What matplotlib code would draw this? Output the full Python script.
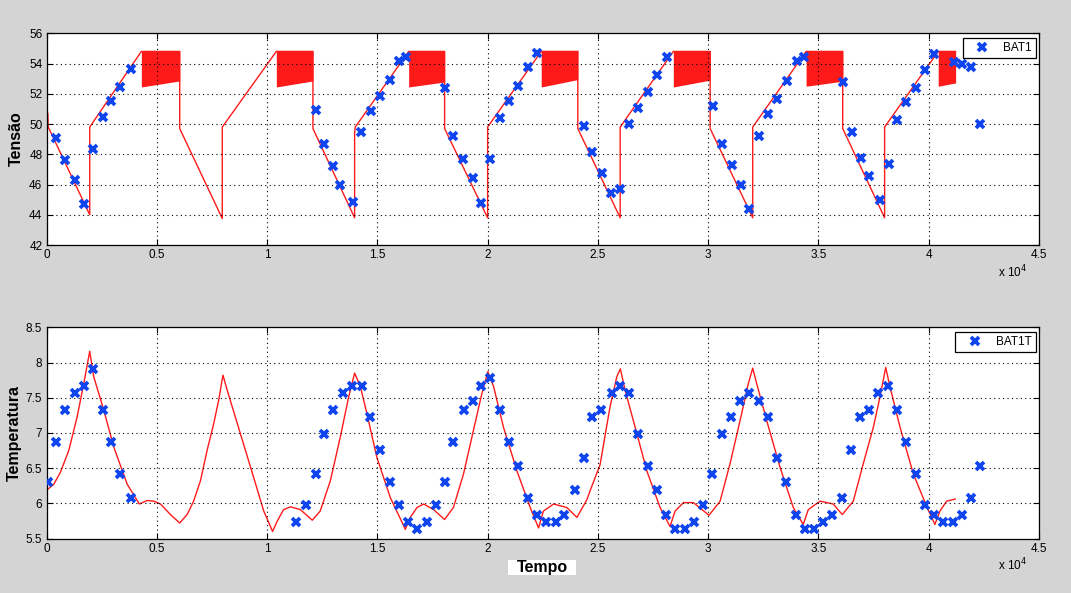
import matplotlib
matplotlib.use("Agg")
import matplotlib.pyplot as plt
from matplotlib.patches import Rectangle

plt.rcParams['font.family'] = ['Liberation Sans', 'DejaVu Sans']

# ---------------- data ----------------
# Voltage trace (seconds, volts)
volt_t = [60, 80, 1960, 1960, 4300, 6040, 6040, 7970, 7970, 10420, 12080, 12080,
          13970, 13970, 14000, 16420, 18050, 18050, 20000, 20000, 22430, 24090,
          24090, 26010, 26010, 28420, 30090, 30090, 32020, 32020, 34440, 36100,
          36100, 38000, 38000, 40430, 41220]
volt_v = [50.7, 49.8, 44.0, 49.8, 54.8, 54.8, 49.7, 43.75, 49.8, 54.8, 54.8, 49.7,
          43.8, 49.4, 49.8, 54.8, 54.8, 49.7, 43.8, 49.8, 54.8, 54.8,
          49.7, 43.8, 49.8, 54.8, 54.8, 49.7, 43.8, 49.8, 54.8, 54.8,
          49.7, 43.8, 49.8, 54.8, 54.8]

# Float-charge oscillation bands (start, end, lower envelope at start/end, top)
band_start = [4300, 10420, 16420, 22430, 28420, 34440, 40430]
band_end = [6040, 12080, 18050, 24090, 30090, 36100, 41220]
band_low_start = [52.45, 52.45, 52.45, 52.45, 52.45, 52.5, 52.5]
band_low_end = [52.85, 52.85, 52.78, 52.94, 52.9, 52.83, 52.72]
band_top = [54.85, 54.85, 54.85, 54.85, 54.85, 54.85, 54.85]

# BAT1 samples
bat1_t = [453, 861, 1270, 1680, 2130, 2550, 2945, 3350, 3810, 12200, 12600, 13000,
          13320, 13880, 14270, 14700, 15100, 15560, 15960, 16280, 18050, 18440,
          18890, 19320, 19710, 20120, 20570, 20980, 21400, 21810, 22230, 24350,
          24750, 25180, 25610, 26020, 26430, 26840, 27290, 27700, 28120, 30210,
          30640, 31070, 31480, 31870, 32320, 32730, 33110, 33560, 34010, 34350,
          36100, 36510, 36910, 37300, 37790, 38180, 38560, 38980, 39430, 39810,
          40220, 41140, 41520, 41930, 42320]
bat1_v = [49.10, 47.60, 46.32, 44.68, 48.37, 50.49, 51.50, 52.48, 53.62, 50.91, 48.70, 47.20,
          46.00, 44.86, 49.50, 50.84, 51.88, 52.94, 54.20, 54.44, 52.41, 49.23,
          47.71, 46.40, 44.79, 47.71, 50.42, 51.50, 52.50, 53.74, 54.73, 49.89,
          48.17, 46.78, 45.46, 45.72, 50.03, 51.09, 52.10, 53.21, 54.42, 51.22,
          48.70, 47.31, 46.00, 44.40, 49.23, 50.69, 51.68, 52.83, 54.15, 54.40,
          52.81, 49.45, 47.77, 46.54, 45.00, 47.33, 50.29, 51.44, 52.41, 53.60,
          54.60, 54.09, 54.00, 53.74, 50.03]

# Temperature trace (seconds, value)
temp_t = [60, 330, 630, 1010, 1390, 1690, 1960, 2140, 2600, 3050, 3660, 4210, 4560,
          4860, 5170, 5620, 6040, 6375, 6670, 6980, 7280, 7580, 7810, 8000, 8190,
          8790, 9390, 9850, 10250, 10450, 10750, 11060, 11510, 12050, 12410, 12870,
          13320, 13700, 13970, 14230, 14530, 14980, 15590, 16270, 16490, 16800,
          17100, 17550, 18050, 18450, 18910, 19360, 19740, 20010, 20270, 20720,
          21330, 21930, 22310, 22530, 22990, 23590, 24050, 24500, 24650, 25100,
          25550, 25860, 26020, 26230, 26690, 27220, 27820, 28270, 28500, 28880,
          29330, 30040, 30540, 30990, 31450, 31820, 32020, 32200, 32650, 33260,
          33860, 34310, 34540, 35070, 35670, 36080, 36580, 37030, 37490, 37790,
          38050, 38240, 38700, 39300, 39900, 40280, 40510, 40810, 41200]
temp_v = [6.20, 6.27, 6.44, 6.75, 7.23, 7.70, 8.16, 7.80, 7.32, 6.80, 6.27, 5.99, 6.04,
          6.03, 5.99, 5.84, 5.72, 5.84, 6.03, 6.32, 6.75, 7.13, 7.47, 7.82, 7.61,
          6.99, 6.37, 5.89, 5.60, 5.74, 5.91, 5.95, 5.91, 5.76, 5.89, 6.32,
          6.94, 7.51, 7.85, 7.66, 7.27, 6.65, 6.08, 5.63, 5.80, 5.94,
          5.99, 5.91, 5.77, 5.94, 6.42, 7.04, 7.56, 7.87, 7.66, 7.08,
          6.46, 5.94, 5.65, 5.89, 5.99, 5.94, 5.80, 6.05, 6.18, 6.55,
          7.37, 7.80, 7.91, 7.61, 7.08, 6.46, 5.94, 5.67, 5.89, 6.01,
          6.01, 5.83, 6.03, 6.56, 7.18, 7.70, 7.92, 7.70, 7.18, 6.51,
          5.94, 5.70, 5.91, 6.03, 5.99, 5.84, 6.03, 6.56, 7.08, 7.51,
          7.93, 7.66, 7.08, 6.42, 5.96, 5.70, 5.89, 6.03, 6.06]

# BAT1T samples
bat1t_t = [60, 450, 860, 1270, 1680, 2130, 2540, 2945, 3350, 3810, 11330, 11750, 12200,
           12600, 13000, 13430, 13870, 14290, 14680, 15100, 15560, 15960, 16370, 16780,
           17230, 17640, 18050, 18450, 18910, 19320, 19720, 20130, 20570, 20990, 21400,
           21810, 22260, 22670, 23080, 23480, 23940, 24350, 24750, 25160, 25630, 26020,
           26430, 26840, 27290, 27700, 28110, 28510, 28970, 29370, 29780, 30190, 30640,
           31050, 31460, 31870, 32320, 32730, 33140, 33540, 34000, 34400, 34810, 35210,
           35620, 36070, 36480, 36890, 37300, 37710, 38150, 38570, 38980, 39420, 39830,
           40230, 40640, 41100, 41500, 41910, 42320]
bat1t_v = [6.30, 6.87, 7.33, 7.56, 7.67, 7.91, 7.33, 6.87, 6.42, 6.07, 5.73, 5.98, 6.42,
           6.99, 7.33, 7.56, 7.67, 7.67, 7.22, 6.76, 6.30, 5.98, 5.73, 5.63,
           5.73, 5.98, 6.30, 6.87, 7.33, 7.45, 7.67, 7.78, 7.33, 6.87, 6.53,
           6.07, 5.84, 5.73, 5.73, 5.84, 6.19, 6.64, 7.22, 7.33, 7.56, 7.67,
           7.56, 6.99, 6.53, 6.19, 5.84, 5.63, 5.63, 5.73, 5.98, 6.42, 6.99,
           7.22, 7.45, 7.56, 7.45, 7.22, 6.64, 6.30, 5.84, 5.63, 5.63, 5.73,
           5.84, 6.07, 6.76, 7.22, 7.33, 7.56, 7.67, 7.33, 6.87, 6.42, 5.98,
           5.84, 5.73, 5.73, 5.84, 6.07, 6.53]

x_ticks = [0, 5000, 10000, 15000, 20000, 25000, 30000, 35000, 40000, 45000]
x_tick_labels = ['0', '0.5', '1', '1.5', '2', '2.5', '3', '3.5', '4', '4.5']
volt_ticks = [42, 44, 46, 48, 50, 52, 54, 56]
temp_ticks = [5.5, 6, 6.5, 7, 7.5, 8, 8.5]
temp_tick_labels = ['5.5', '6', '6.5', '7', '7.5', '8', '8.5']

# ---------------- figure ----------------
W, H = 1071, 593
BG = '#d4d4d4'
RED = '#ff1a1a'
BLUE = '#0f45ee'

fig = plt.figure(figsize=(W / 100, H / 100), dpi=100, facecolor=BG)

def px_rect(l, t, r, b):
    return [l / W, 1 - b / H, (r - l) / W, (b - t) / H]

ax1 = fig.add_axes(px_rect(46.5, 33.3, 1039, 245))
ax2 = fig.add_axes(px_rect(46.5, 327.3, 1039, 538.5))

def style(ax):
    ax.set_facecolor('white')
    ax.set_xlim(0, 45000)
    ax.set_xticks(x_ticks)
    ax.set_xticklabels(x_tick_labels)
    ax.grid(True, color='black', linestyle=(0, (1, 3)), linewidth=0.8)
    ax.tick_params(direction='in', length=4, width=0.8, top=True, right=True,
                   labelsize=8.5, pad=3, colors='black')
    for s in ax.spines.values():
        s.set_linewidth(0.9)
        s.set_color('black')
    ax.set_axisbelow(False)

# top panel
for s, e, ls, le, tp in zip(band_start, band_end, band_low_start, band_low_end, band_top):
    ax1.fill_between([s, e], [ls, le], [tp, tp], color=RED, linewidth=0, zorder=2)
ax1.plot(volt_t, volt_v, color=RED, linewidth=1.0, zorder=2)
ax1.plot(bat1_t, bat1_v, linestyle='none', marker='x', markersize=5.8,
         markeredgewidth=2.7, color=BLUE, label='BAT1', zorder=3)
style(ax1)
ax1.set_ylim(42, 56)
ax1.set_yticks(volt_ticks)

# bottom panel
ax2.plot(temp_t, temp_v, color=RED, linewidth=1.0, zorder=2)
ax2.plot(bat1t_t, bat1t_v, linestyle='none', marker='x', markersize=5.8,
         markeredgewidth=2.7, color=BLUE, label='BAT1T', zorder=3)
style(ax2)
ax2.set_ylim(5.5, 8.5)
ax2.set_yticks(temp_ticks)
ax2.set_yticklabels(temp_tick_labels)

for ax, anchor in ((ax1, (1036 / W, 1 - 38 / H)), (ax2, (1036 / W, 1 - 332 / H))):
    leg = ax.legend(loc='upper right', bbox_to_anchor=anchor, bbox_transform=fig.transFigure,
                    borderaxespad=0, fancybox=False, framealpha=1, edgecolor='black',
                    fontsize=8.5, handlelength=2.6, handletextpad=0.5, borderpad=0.35,
                    markerscale=0.9)
    leg.get_frame().set_linewidth(0.9)

fig.text(16.5 / W, 1 - 139 / H, 'Tensão', rotation=90, ha='center', va='center',
         fontsize=11.5, fontweight='bold')
fig.text(14 / W, 1 - 433 / H, 'Temperatura', rotation=90, ha='center', va='center',
         fontsize=11.5, fontweight='bold')
fig.patches.append(Rectangle((508 / W, 1 - 574.5 / H), 68 / W, 14.5 / H,
                             transform=fig.transFigure, facecolor='white',
                             edgecolor='none', zorder=1))
fig.text(542 / W, 1 - 567.5 / H, 'Tempo', ha='center', va='center', fontsize=11.5,
         fontweight='bold', zorder=2)
fig.text(1013 / W, 1 - 272 / H, r'x 10$^{4}$', ha='center', va='center', fontsize=8.5)
fig.text(1013 / W, 1 - 565 / H, r'x 10$^{4}$', ha='center', va='center', fontsize=8.5)

fig.savefig('out.png', dpi=100, facecolor=BG)
